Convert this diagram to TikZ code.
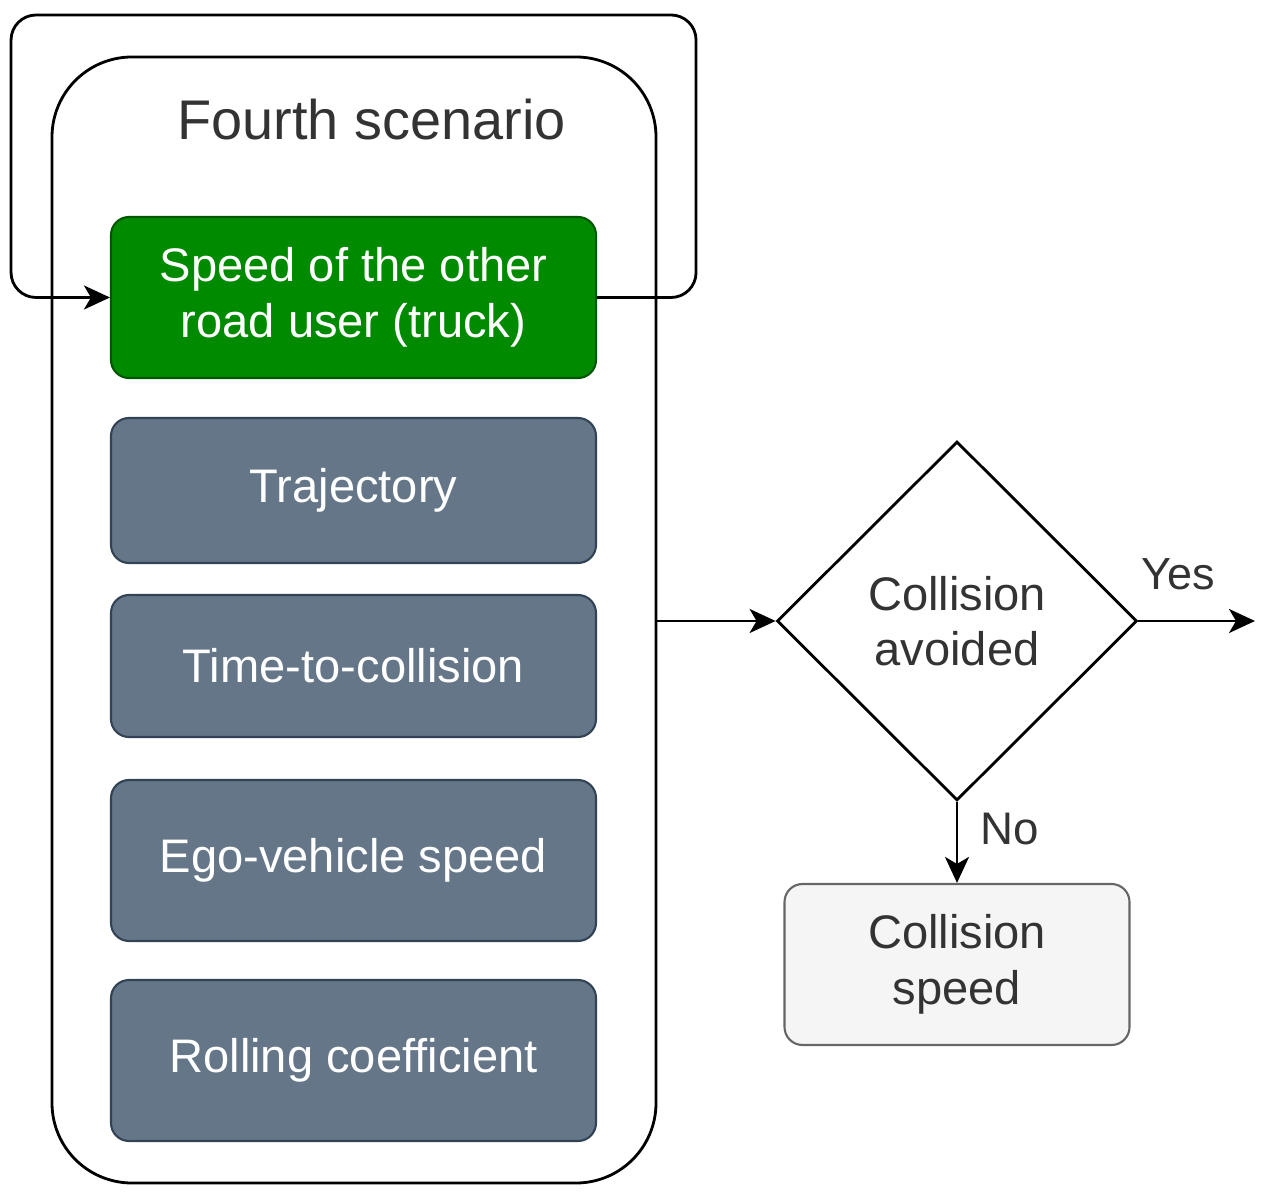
\documentclass[tikz,border=0pt]{standalone}
\usepackage{fontspec}
\setmainfont{Liberation Sans}
\usepackage{xcolor}
\usepackage{tikz}
\usetikzlibrary{arrows.meta,positioning,shapes.geometric}
\definecolor{slatefill}{HTML}{647687}
\definecolor{slatedraw}{HTML}{314354}
\definecolor{greenfill}{HTML}{008A00}
\definecolor{greendraw}{HTML}{005700}
\definecolor{greyfill}{HTML}{F5F5F5}
\definecolor{greydraw}{HTML}{666666}
\definecolor{greytext}{HTML}{333333}
\tikzstyle{block} = [rectangle, draw=slatedraw, fill=slatefill, text=white, line width=0.6pt, align=center, rounded corners=0.18cm, minimum height=1.61cm, minimum width=4.85cm, font=\fontsize{13.4}{15.8}\selectfont]
\tikzstyle{greenblock} = [block, draw=greendraw, fill=greenfill]
\tikzstyle{result} = [block, draw=greydraw, fill=greyfill, text=greytext, minimum width=3.45cm]
\tikzstyle{decision} = [diamond, draw, line width=0.8pt, inner sep=0pt, minimum width=3.6cm, minimum height=3.59cm, align=center, text=greytext, font=\fontsize{13.4}{15.8}\selectfont]

\begin{document}
\begin{tikzpicture}[node distance=2cm, auto, >={Stealth[length=0.26cm, width=0.24cm, inset=0.07cm]}, line width=0.8pt]
	\useasboundingbox (0,0) rectangle (12.68,-11.96);
	\node[draw, rounded corners=0.8cm, minimum width=6.04cm, minimum height=11.26cm] (scen) at (3.54,-6.2) {};
	\node[font=\fontsize{15.9}{18}\selectfont, text=greytext] (title) at (3.715,-1.2) {Fourth scenario};
	\node[greenblock] (speed) at (3.535,-2.975) {Speed of the other\\road user (truck)};
	\node[block, minimum height=1.45cm] (traj) [below of=speed, node distance=1.93cm] {Trajectory};
	\node[block, minimum height=1.42cm] (ttc) [below of=traj, node distance=1.755cm] {Time-to-collision};
	\node[block] (ego) [below of=ttc, node distance=1.945cm] {Ego-vehicle speed};
	\node[block] (roll) [below of=ego, node distance=2cm] {Rolling coefficient};
	\draw[->, rounded corners=0.25cm] (speed.east) -- ++(0.99,0) -- ++(0,2.825) -- ++(-6.85,0) -- ++(0,-2.825) -- (speed.west);

	\node[decision] (avoid) at (9.57,-6.21) {Collision\\avoided};
	\draw[->] (scen.east |- avoid.west) -- (avoid.west);
	\coordinate (out) at (12.55,-6.21);
	\draw[->] (avoid.east) -- node[pos=0.34, above=0.18cm, font=\fontsize{12.8}{15}\selectfont, text=greytext] {Yes} (out);
	\node[result] (crash) [below of=avoid, node distance=3.435cm] {Collision\\speed};
	\draw[->] (avoid.south) -- node[pos=0.33, right=0.1cm, font=\fontsize{13}{15}\selectfont, text=greytext] {No} (crash.north);
\end{tikzpicture}
\end{document}
